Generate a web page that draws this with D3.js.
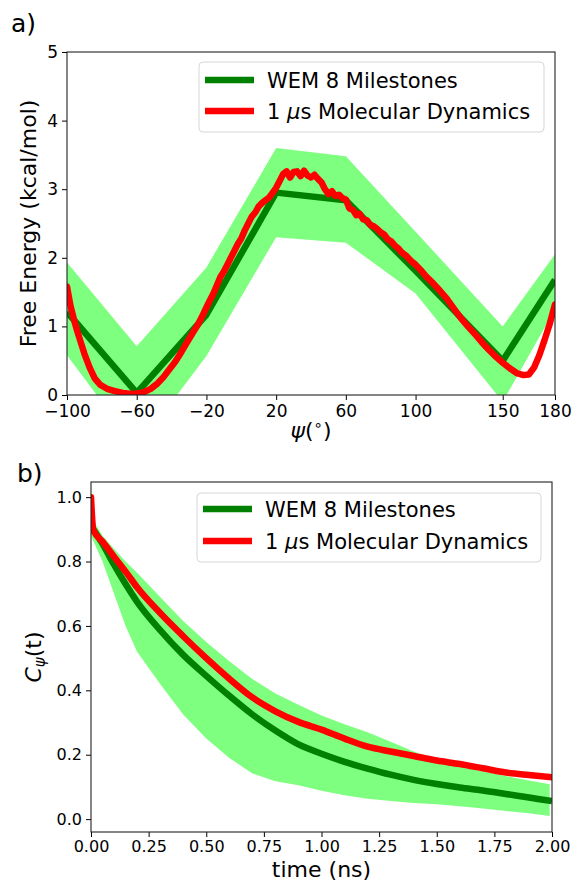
<!DOCTYPE html>
<html><head><meta charset="utf-8">
<script src="https://cdn.jsdelivr.net/npm/d3@7"></script>
<style>
body{margin:0;background:#fff}
svg{display:block}
text{font-family:"DejaVu Sans",sans-serif;fill:#000}
</style>
</head><body>
<svg id="c" width="578" height="881"></svg>
<script>
// ---------- Panel a) data ----------
const psiTicks = [-100, -60, -20, 20, 60, 100, 150, 180];
const feTicks = [0, 1, 2, 3, 4, 5];
const wemPsi   = [-100, -60, -20, 20, 60, 100, 150, 180];
const wemFE    = [1.21, 0.03, 1.17, 2.95, 2.84, 1.81, 0.50, 1.68];
const wemUpper = [1.93, 0.71, 1.86, 3.60, 3.48, 2.38, 1.00, 2.05];
const wemLower = [0.58, -0.78, 0.57, 2.30, 2.22, 1.48, -0.10, 1.25];
const mdPsi = [-100,-98,-96,-94,-92,-90,-87,-84,-81,-77,-73,-68,-64,-60,-56,-52,-48,-45,-42,-38,-35,-32,-28,-25,-22,-19,-16,-14,-12,-10,-8,-6,-4,-2,0,2,4,6,8,10,12,14,16,18,20,22,24,26,28,30,32,34,36,38,40,42,44,46,48,50,52,54,56,58,60,62,64,66,68,70,72,74,76,78,80,82,84,86,88,90,92,95,98,100,103,106,110,114,118,122,126,130,134,138,142,146,150,154,158,162,165,168,171,174,177,180];
const mdFE  = [1.58,1.30,1.10,0.92,0.76,0.60,0.40,0.24,0.15,0.09,0.06,0.03,0.02,0.02,0.04,0.09,0.17,0.25,0.35,0.48,0.60,0.73,0.90,1.02,1.17,1.33,1.48,1.60,1.72,1.80,1.90,2.00,2.10,2.20,2.28,2.40,2.50,2.60,2.66,2.75,2.80,2.84,2.88,2.95,3.02,3.12,3.22,3.26,3.17,3.25,3.26,3.19,3.27,3.20,3.17,3.21,3.15,3.10,3.00,2.93,2.97,2.90,2.92,2.87,2.85,2.72,2.70,2.62,2.64,2.56,2.55,2.48,2.46,2.42,2.37,2.34,2.27,2.24,2.18,2.14,2.08,2.02,1.94,1.90,1.82,1.73,1.63,1.52,1.40,1.26,1.12,1.00,0.89,0.77,0.66,0.56,0.47,0.39,0.32,0.29,0.30,0.40,0.58,0.80,1.04,1.32];

// ---------- Panel b) data ----------
const timeTicks = [0, 0.25, 0.5, 0.75, 1.0, 1.25, 1.5, 1.75, 2.0];
const corrTicks = [0, 0.2, 0.4, 0.6, 0.8, 1.0];
const wemTime = [0,0.05,0.1,0.15,0.2,0.3,0.4,0.5,0.6,0.7,0.8,0.9,1.0,1.1,1.2,1.3,1.4,1.5,1.6,1.7,1.8,1.9,2.0];
const wemCorr = [0.91,0.855,0.79,0.73,0.675,0.587,0.51,0.445,0.383,0.325,0.275,0.232,0.203,0.178,0.157,0.138,0.122,0.109,0.098,0.089,0.078,0.067,0.056];
const bandTime  = [0,0.05,0.1,0.15,0.2,0.3,0.4,0.5,0.6,0.7,0.8,0.9,1.0,1.1,1.2,1.3,1.4,1.5,1.6,1.7,1.8,1.9,1.99];
const bandUpper = [0.94,0.88,0.84,0.80,0.765,0.69,0.615,0.55,0.49,0.435,0.39,0.355,0.322,0.295,0.27,0.24,0.21,0.185,0.165,0.148,0.134,0.12,0.108];
const bandLower = [0.88,0.80,0.70,0.60,0.52,0.42,0.325,0.25,0.19,0.142,0.118,0.105,0.088,0.074,0.063,0.056,0.050,0.046,0.040,0.033,0.025,0.018,0.010];
const mdTime = [0,0.01,0.05,0.1,0.155,0.2,0.3,0.4,0.5,0.6,0.7,0.8,0.9,1.0,1.1,1.2,1.3,1.4,1.5,1.6,1.7,1.8,1.9,2.0];
const mdCorr = [1.0,0.898,0.862,0.815,0.764,0.72,0.64,0.568,0.50,0.436,0.378,0.335,0.302,0.278,0.25,0.225,0.21,0.196,0.182,0.171,0.158,0.145,0.137,0.13];

const legendLabels = ["WEM 8 Milestones", "1 μs Molecular Dynamics"];
const colors = {wem: "#008000", md: "#ff0000", band: "#7fff7f"};

const svg = d3.select("#c");

function panel(cfg) {
  const g = svg.append("g");
  const x = cfg.x, y = cfg.y;
  const [x0, x1] = x.range(), [y0, y1] = y.range();
  const clipId = "clip" + cfg.id;
  svg.append("clipPath").attr("id", clipId).append("rect")
    .attr("x", x0).attr("y", y1).attr("width", x1 - x0).attr("height", y0 - y1);
  const plot = g.append("g").attr("clip-path", `url(#${clipId})`);
  const area = d3.area().x(d => x(d[0])).y0(d => y(d[1])).y1(d => y(d[2]));
  plot.append("path").datum(cfg.band).attr("d", area).attr("fill", colors.band).attr("stroke", "none");
  const line = d3.line().x(d => x(d[0])).y(d => y(d[1])).curve(cfg.curve);
  plot.append("path").datum(cfg.wem).attr("d", line).attr("fill", "none")
    .attr("stroke", colors.wem).attr("stroke-width", 6.5).attr("stroke-linejoin", "round");
  plot.append("path").datum(cfg.md).attr("d", line).attr("fill", "none")
    .attr("stroke", colors.md).attr("stroke-width", 6.5).attr("stroke-linejoin", "round").attr("stroke-linecap", "round");
  const ax = g.append("g").attr("transform", `translate(0,${y0})`)
    .call(d3.axisBottom(x).tickValues(cfg.xTicks).tickFormat(cfg.xFmt).tickSize(5).tickPadding(cfg.xPad).tickSizeOuter(0));
  const ay = g.append("g").attr("transform", `translate(${x0},0)`)
    .call(d3.axisLeft(y).tickValues(cfg.yTicks).tickFormat(cfg.yFmt).tickSize(5).tickPadding(4).tickSizeOuter(0));
  [ax, ay].forEach(a => {
    a.select(".domain").remove();
    a.selectAll("line").attr("stroke", "#000").attr("stroke-width", 1);
    a.selectAll("text").attr("font-family", "DejaVu Sans").attr("font-size", cfg.tickFont).attr("fill", "#000");
  });
  g.append("rect").attr("x", x0).attr("y", y1).attr("width", x1 - x0).attr("height", y0 - y1)
    .attr("fill", "none").attr("stroke", "#222").attr("stroke-width", 1.1);
  const L = cfg.legend;
  g.append("rect").attr("x", L.x).attr("y", L.y).attr("width", L.w).attr("height", L.h)
    .attr("rx", 4).attr("fill", "#fff").attr("fill-opacity", 0.85).attr("stroke", "#d6d6d6").attr("stroke-width", 1);
  [colors.wem, colors.md].forEach((c, i) => {
    const ly = L.y + L.first + i * L.gap;
    g.append("line").attr("x1", L.x + 6).attr("x2", L.x + 55).attr("y1", ly).attr("y2", ly)
      .attr("stroke", c).attr("stroke-width", 6.5);
    const t = g.append("text").attr("x", L.x + 68).attr("y", ly + 7.5).attr("font-size", 21);
    if (i === 0) t.text(legendLabels[0]);
    else {
      const parts = legendLabels[1].split("μ");
      t.append("tspan").text(parts[0]);
      t.append("tspan").attr("font-style", "italic").text("μ");
      t.append("tspan").text(parts[1]);
    }
  });
  return g;
}

const zipBand = (xs, up, lo) => xs.map((v, i) => [v, lo[i], up[i]]);
const zip = (xs, ys) => xs.map((v, i) => [v, ys[i]]);

panel({
  id: "a",
  x: d3.scaleLinear().domain([-100, 180]).range([67, 555]),
  y: d3.scaleLinear().domain([0, 5]).range([395, 52]),
  band: zipBand(wemPsi, wemUpper, wemLower),
  wem: zip(wemPsi, wemFE),
  md: zip(mdPsi, mdFE),
  curve: d3.curveLinear,
  xTicks: psiTicks, yTicks: feTicks,
  xFmt: d3.format("d"), yFmt: d3.format("d"),
  tickFont: 17, xPad: 5,
  legend: {x: 199, y: 62, w: 345, h: 70, first: 18, gap: 31}
});

panel({
  id: "b",
  x: d3.scaleLinear().domain([0, 2]).range([91, 552]),
  y: d3.scaleLinear().domain([-0.04, 1.047]).range([832, 482]),
  band: zipBand(bandTime, bandUpper, bandLower),
  wem: zip(wemTime, wemCorr),
  md: zip(mdTime, mdCorr),
  curve: d3.curveMonotoneX,
  xTicks: timeTicks, yTicks: corrTicks,
  xFmt: d3.format(".2f"), yFmt: d3.format(".1f"),
  tickFont: 16, xPad: 4,
  legend: {x: 197, y: 493, w: 344, h: 69, first: 16, gap: 32}
});

svg.append("text").attr("x", 11).attr("y", 32).attr("font-size", 25).text("a)");
svg.append("text").attr("x", 17).attr("y", 482).attr("font-size", 25).text("b)");

svg.append("text").attr("transform", "translate(36,223.5) rotate(-90)")
  .attr("text-anchor", "middle").attr("font-size", 22).text("Free Energy (kcal/mol)");
const xl = svg.append("text").attr("x", 311).attr("y", 438).attr("text-anchor", "middle").attr("font-size", 22);
xl.append("tspan").attr("font-style", "italic").text("ψ");
xl.append("tspan").text("(");
xl.append("tspan").attr("font-size", 15).attr("dy", -8).text("∘");
xl.append("tspan").attr("dy", 8).text(")");

svg.append("text").attr("x", 321.5).attr("y", 877).attr("text-anchor", "middle").attr("font-size", 22).text("time (ns)");
const yl = svg.append("text").attr("transform", "translate(41,657) rotate(-90)")
  .attr("text-anchor", "middle").attr("font-size", 22);
yl.append("tspan").attr("font-style", "italic").text("C");
yl.append("tspan").attr("font-style", "italic").attr("font-size", 15).attr("dy", 4).text("ψ");
yl.append("tspan").attr("dy", -4).text("(t)");
</script>
</body></html>
